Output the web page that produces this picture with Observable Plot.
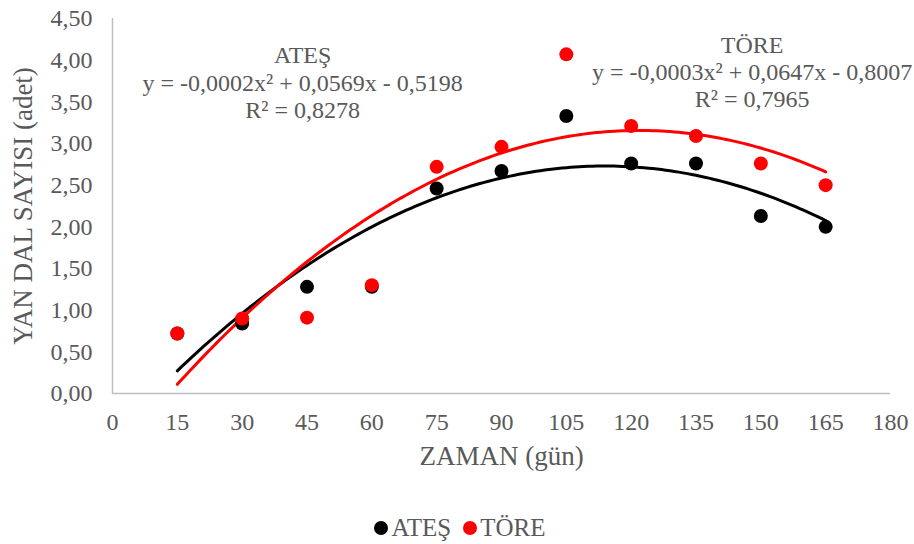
<!DOCTYPE html>
<html><head><meta charset="utf-8">
<script src="https://cdn.jsdelivr.net/npm/d3@7"></script>
<script src="https://cdn.jsdelivr.net/npm/@observablehq/plot@0.6"></script>
<style>
body{margin:0;background:#fff;width:914px;height:544px;overflow:hidden;font-family:Liberation Serif, serif;}
svg text{font-family:Liberation Serif, serif;}
#legend{display:flex;justify-content:center;align-items:center;height:44px;font-size:25px;color:#595959;padding-left:6px;padding-top:6px;}
#legend .item{display:flex;align-items:center;margin:0 6px;}
#legend .sw{display:inline-block;width:14px;height:14px;border-radius:50%;margin-right:3px;}
</style></head><body>
<div id="chart"></div>
<div id="legend" style="font-family:'Liberation Serif'"></div>
<script>
// ---- data ----
const days = [15, 30, 45, 60, 75, 90, 105, 120, 135, 150, 165];
const ates = [0.72, 0.84, 1.28, 1.28, 2.46, 2.67, 3.33, 2.76, 2.76, 2.13, 2.00];
const tore = [0.72, 0.90, 0.91, 1.30, 2.72, 2.96, 4.07, 3.21, 3.09, 2.76, 2.50];
const seriesNames = ["ATEŞ", "TÖRE"];
const seriesColors = ["#000000", "#ff0000"];
const xTicks = [0, 15, 30, 45, 60, 75, 90, 105, 120, 135, 150, 165, 180];
const yTicks = [0, 0.5, 1, 1.5, 2, 2.5, 3, 3.5, 4, 4.5];
const trendLabels = [
  "ATEŞ\ny = -0,0002x² + 0,0569x - 0,5198\nR² = 0,8278",
  "TÖRE\ny = -0,0003x² + 0,0647x - 0,8007\nR² = 0,7965"
];
const xTitle = "ZAMAN (gün)";
const yTitle = "YAN DAL SAYISI (adet)";

// ---- quadratic least-squares trendline (as in the spreadsheet) ----
function quadFit(xs, ys) {
  const S = k => d3.sum(xs, x => x ** k);
  const T = k => d3.sum(xs, (x, i) => ys[i] * x ** k);
  const A = [[S(4), S(3), S(2)], [S(3), S(2), S(1)], [S(2), S(1), xs.length]];
  const b = [T(2), T(1), T(0)];
  for (let i = 0; i < 3; i++) {
    for (let j = i + 1; j < 3; j++) {
      const f = A[j][i] / A[i][i];
      for (let k = i; k < 3; k++) A[j][k] -= f * A[i][k];
      b[j] -= f * b[i];
    }
  }
  const c = [0, 0, 0];
  for (let i = 2; i >= 0; i--) {
    let s = b[i];
    for (let k = i + 1; k < 3; k++) s -= A[i][k] * c[k];
    c[i] = s / A[i][i];
  }
  return x => c[0] * x * x + c[1] * x + c[2];
}
const seriesValues = [ates, tore];
const points = seriesValues.map((vals, s) => days.map((d, i) => ({x: d, y: vals[i], s})));
const curves = seriesValues.map((vals, s) => {
  const f = quadFit(days, vals);
  return d3.range(days[0], days[days.length - 1] + 0.5, 1).map(x => ({x, y: f(x), s}));
});

const fmt = d => d.toFixed(2).replace(".", ",");
const txt = "#595959";
const serif = "Liberation Serif";

const chart = Plot.plot({
  width: 914,
  height: 500,
  marginLeft: 112,
  marginRight: 24,
  marginTop: 18,
  marginBottom: 107,
  style: {fontSize: "24px", color: txt, background: "#fff"},
  x: {domain: [0, 180], label: null},
  y: {domain: [0, 4.5], label: null},
  marks: [
    Plot.ruleX([0], {stroke: "#bfbfbf", strokeWidth: 1.5}),
    Plot.ruleY([0], {stroke: "#bfbfbf", strokeWidth: 1.5}),
    Plot.axisX({ticks: xTicks, tickSize: 0, tickPadding: 19, fontSize: 24, fontFamily: serif, fill: txt, label: null}),
    Plot.axisY({ticks: yTicks, tickSize: 0, tickPadding: 20, fontSize: 24, fontFamily: serif, fill: txt, tickFormat: fmt, label: null}),
    Plot.text([xTitle], {frameAnchor: "bottom", lineAnchor: "top", dy: 52, fontSize: 27, fontFamily: serif, fill: txt}),
    Plot.text([yTitle], {frameAnchor: "left", textAnchor: "middle", lineAnchor: "top", rotate: -90, dx: -100, fontSize: 27, fontFamily: serif, fill: txt}),
    ...curves.map((c, s) => Plot.line(c, {x: "x", y: "y", stroke: seriesColors[s], strokeWidth: 3})),
    ...points.map((p, s) => Plot.dot(p, {x: "x", y: "y", r: 7, fill: seriesColors[s], stroke: null})),
    Plot.text([trendLabels[0]], {x: 44, y: 3.74, lineHeight: 1.13, fontSize: 24, fontFamily: serif, fill: txt}),
    Plot.text([trendLabels[1]], {x: 148, y: 3.87, lineHeight: 1.13, fontSize: 24, fontFamily: serif, fill: txt})
  ]
});
chart.style.fontFamily = serif;
chart.querySelectorAll("text").forEach(t => t.style.fontFamily = serif);
document.getElementById("chart").appendChild(chart);

const legend = document.getElementById("legend");
seriesNames.forEach((name, i) => {
  const item = document.createElement("span");
  item.className = "item";
  const sw = document.createElement("span");
  sw.className = "sw";
  sw.style.background = seriesColors[i];
  const label = document.createElement("span");
  label.textContent = name;
  label.style.fontFamily = serif;
  item.appendChild(sw);
  item.appendChild(label);
  legend.appendChild(item);
});
</script>
</body></html>
